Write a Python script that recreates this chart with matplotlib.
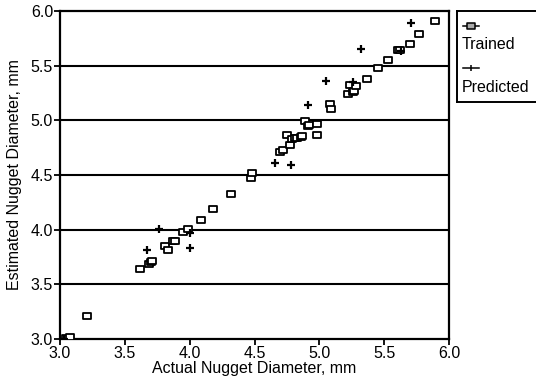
import matplotlib
matplotlib.use("Agg")
import matplotlib.pyplot as plt
from matplotlib.path import Path

# Trained points (actual, estimated)
trained_x = [3.05, 3.08, 3.21, 3.62, 3.69, 3.70, 3.71, 3.81, 3.83, 3.87, 3.89, 3.95, 3.99,
             4.09, 4.18, 4.32, 4.47, 4.48, 4.70, 4.72, 4.75, 4.77, 4.79, 4.81, 4.83,
             4.86, 4.87, 4.89, 4.91, 4.92, 4.98, 4.98, 5.08, 5.09, 5.22, 5.24, 5.26,
             5.27, 5.28, 5.37, 5.45, 5.53, 5.61, 5.62, 5.70, 5.77, 5.89]
trained_y = [3.01, 3.02, 3.21, 3.64, 3.69, 3.70, 3.71, 3.85, 3.81, 3.90, 3.90, 3.98, 4.01,
             4.09, 4.19, 4.33, 4.47, 4.52, 4.71, 4.73, 4.87, 4.77, 4.83, 4.84, 4.84,
             4.85, 4.86, 4.99, 4.95, 4.96, 4.97, 4.87, 5.15, 5.10, 5.24, 5.32, 5.26,
             5.27, 5.31, 5.38, 5.48, 5.55, 5.64, 5.64, 5.70, 5.79, 5.91]

# Predicted points
pred_x = [3.03, 3.67, 3.76, 4.00, 4.00, 4.66, 4.78, 4.91, 5.05, 5.26, 5.32, 5.63, 5.71]
pred_y = [3.00, 3.81, 4.01, 3.97, 3.83, 4.61, 4.59, 5.14, 5.36, 5.35, 5.65, 5.63, 5.89]

xticks = [3.0, 3.5, 4.0, 4.5, 5.0, 5.5, 6.0]
yticks = [3.0, 3.5, 4.0, 4.5, 5.0, 5.5, 6.0]
tick_labels = ["3.0", "3.5", "4.0", "4.5", "5.0", "5.5", "6.0"]

plt.rcParams['font.family'] = ['Liberation Sans', 'DejaVu Sans']
FS = 11.5

rect = Path([(-1.0, -0.72), (1.0, -0.72), (1.0, 0.72), (-1.0, 0.72), (-1.0, -0.72)],
            [Path.MOVETO, Path.LINETO, Path.LINETO, Path.LINETO, Path.CLOSEPOLY])

fig = plt.figure(figsize=(5.36, 3.86), dpi=100)
ax = fig.add_axes([60/536, 1-339/386, (449-60)/536, (339-11)/386])

for yv in yticks[1:-1]:
    ax.axhline(yv, color='black', lw=1.5, zorder=1)

ax.plot(trained_x, trained_y, linestyle='none', marker=rect, markersize=6.3,
        markerfacecolor='white', markeredgecolor='black', markeredgewidth=1.3, zorder=3)
ax.plot(pred_x, pred_y, linestyle='none', marker='+', markersize=5.5,
        markeredgecolor='black', markeredgewidth=1.6, zorder=4)

ax.set_xlim(3.0, 6.0)
ax.set_ylim(3.0, 6.0)
ax.set_xticks(xticks)
ax.set_xticklabels(tick_labels)
ax.set_yticks(yticks)
ax.set_yticklabels(tick_labels)
ax.tick_params(direction='out', length=4, width=1.3, labelsize=FS, pad=1)
for s in ax.spines.values():
    s.set_linewidth(1.6)
ax.set_xlabel("Actual Nugget Diameter, mm", fontsize=FS, labelpad=0)
ax.set_ylabel("Estimated Nugget Diameter, mm", fontsize=FS, labelpad=6)

# Legend box
lax = fig.add_axes([457/536, 1-102/386, (537-457)/536, (102-11)/386])
lax.set_xlim(0, 1)
lax.set_ylim(0, 1)
lax.set_xticks([])
lax.set_yticks([])
for s in lax.spines.values():
    s.set_linewidth(1.4)
lax.plot([0.08, 0.28], [0.84, 0.84], color='black', lw=1.1)
lax.plot([0.18], [0.84], linestyle='none', marker=rect, markersize=5.5,
         markerfacecolor='#aaaaaa', markeredgecolor='black', markeredgewidth=1.1)
lax.text(0.06, 0.63, "Trained", fontsize=FS, va='center', ha='left')
lax.plot([0.08, 0.28], [0.37, 0.37], color='black', lw=1.1)
lax.plot([0.18], [0.37], linestyle='none', marker='|', markersize=4,
         markeredgecolor='black', markeredgewidth=1.1)
lax.text(0.06, 0.16, "Predicted", fontsize=FS, va='center', ha='left')

fig.savefig("out.png", dpi=100)
